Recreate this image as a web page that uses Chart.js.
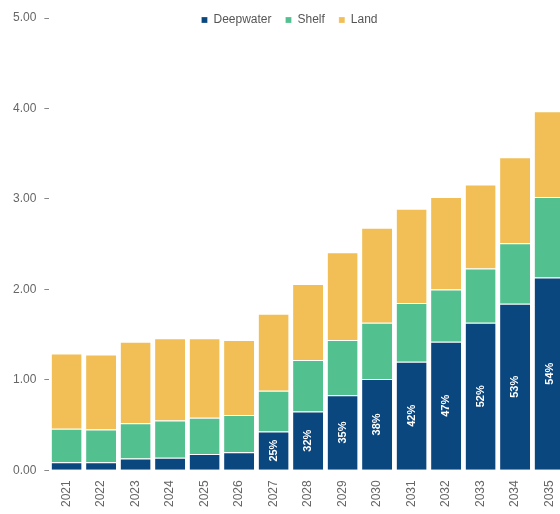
<!DOCTYPE html>
<html>
<head>
<meta charset="utf-8">
<script src="https://cdn.jsdelivr.net/npm/chart.js@4/dist/chart.umd.min.js"></script>
<style>
  html,body{margin:0;padding:0;background:#fff;overflow:hidden;}
  #chart{display:block;}
</style>
</head>
<body>
<!-- a bit wider than the window: the last bar is cut off at the right edge in the original -->
<canvas id="chart" width="574" height="514"></canvas>
<script>
// DATA
const years = ["2021","2022","2023","2024","2025","2026","2027","2028","2029","2030","2031","2032","2033","2034","2035"];
const deepwater = [0.09,0.09,0.13,0.14,0.18,0.20,0.43,0.65,0.83,1.01,1.20,1.42,1.63,1.84,2.13];
const shelf     = [0.37,0.36,0.39,0.41,0.40,0.41,0.45,0.57,0.61,0.62,0.65,0.58,0.60,0.67,0.89];
const land      = [0.83,0.83,0.90,0.91,0.88,0.83,0.85,0.84,0.97,1.05,1.04,1.02,0.93,0.95,0.95];
const shareLabels = ["","","","","","","25%","32%","35%","38%","42%","47%","52%","53%","54%"];

const FONT = "'Liberation Sans', Arial, sans-serif";

// white % labels inside the deepwater bars
const shareLabelPlugin = {
  id: "shareLabels",
  afterDatasetsDraw(chart){
    const ctx = chart.ctx;
    const meta = chart.getDatasetMeta(0);
    ctx.save();
    ctx.fillStyle = "#ffffff";
    ctx.font = "bold 11px " + FONT;
    ctx.textAlign = "center";
    ctx.textBaseline = "middle";
    meta.data.forEach((bar, i)=>{
      const txt = shareLabels[i];
      if(!txt) return;
      const cy = (bar.y + bar.base) / 2;
      ctx.save();
      ctx.translate(bar.x, cy);
      ctx.rotate(-Math.PI/2);
      ctx.fillText(txt, 0, 0);
      ctx.restore();
    });
    ctx.restore();
  }
};

// legend only reserves a thin strip (maxHeight); let it draw past that strip
const legendUnclip = {
  id: "legendUnclip",
  afterLayout(chart){
    const lg = chart.legend;
    if(lg) lg.bottom = lg.top + 40;
  }
};

const seg = {top:1, right:0, bottom:0, left:0};

new Chart(document.getElementById("chart"), {
  type: "bar",
  data: {
    labels: years,
    datasets: [
      {label:"Deepwater", data:deepwater, backgroundColor:"#0b477f", borderColor:"#ffffff", borderWidth:seg, borderSkipped:false},
      {label:"Shelf", data:shelf, backgroundColor:"#52c08f", borderColor:"#ffffff", borderWidth:seg, borderSkipped:false},
      {label:"Land", data:land, backgroundColor:"#f1bf56", borderColor:"#ffffff", borderWidth:seg, borderSkipped:false}
    ]
  },
  options: {
    responsive: false,
    animation: false,
    layout: {padding:{top:0, left:5, right:0, bottom:-3}},
    datasets: {bar:{barPercentage:0.87, categoryPercentage:1}},
    plugins: {
      legend: {
        position: "top",
        maxHeight: 18,
        labels: {
          boxWidth: 6, boxHeight: 6, padding: 14,
          color: "#555", font: {family: FONT, size: 12}
        }
      },
      tooltip: {enabled:false}
    },
    scales: {
      x: {
        stacked: true,
        grid: {display:false, drawTicks:false},
        border: {display:false},
        ticks: {
          minRotation:90, maxRotation:90, padding:10,
          color:"#666", font:{family:FONT, size:12}
        }
      },
      y: {
        stacked: true,
        min: 0, max: 5,
        grid: {drawOnChartArea:false, tickLength:5, color:"#888"},
        border: {display:false},
        ticks: {
          stepSize: 1, padding: 8,
          color:"#666", font:{family:FONT, size:12},
          callback: v => v.toFixed(2)
        }
      }
    }
  },
  plugins: [shareLabelPlugin, legendUnclip]
});
</script>
</body>
</html>
